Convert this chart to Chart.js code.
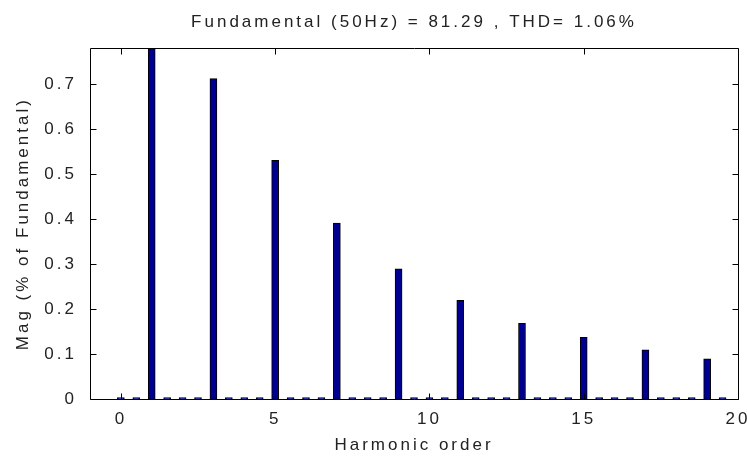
<!DOCTYPE html>
<html>
<head>
<meta charset="utf-8">
<title>FFT analysis</title>
<style>
  html, body { margin: 0; padding: 0; background: #ffffff; }
  #wrap { width: 747px; height: 456px; }
</style>
</head>
<body>
<div id="wrap"><canvas id="fft-chart"></canvas></div>
<script src="https://cdn.jsdelivr.net/npm/chart.js@4.4.1/dist/chart.umd.min.js"></script>
<script>
// harmonic order in steps of 0.5 (25 Hz resolution)
const harmonicOrder = [
  0, 0.5, 1, 1.5, 2, 2.5, 3, 3.5, 4, 4.5,
  5, 5.5, 6, 6.5, 7, 7.5, 8, 8.5, 9, 9.5,
  10, 10.5, 11, 11.5, 12, 12.5, 13, 13.5, 14, 14.5,
  15, 15.5, 16, 16.5, 17, 17.5, 18, 18.5, 19, 19.5,
];
// % of fundamental (fundamental itself = 100, clipped by the axis)
const magnitude = [
  0.004, 0.004, 100, 0.004, 0.004, 0.004, 0.713, 0.004, 0.004, 0.004,
  0.531, 0.004, 0.004, 0.004, 0.392, 0.004, 0.004, 0.004, 0.290, 0.004,
  0.004, 0.004, 0.220, 0.004, 0.004, 0.004, 0.169, 0.004, 0.004, 0.004,
  0.138, 0.004, 0.004, 0.004, 0.110, 0.004, 0.004, 0.004, 0.090, 0.004,
];
const xTicks = [0, 5, 10, 15, 20];
const yTicks = [0, 0.1, 0.2, 0.3, 0.4, 0.5, 0.6, 0.7];
const xRange = [-1, 20];
const yRange = [0, 0.781];

const textFont = { family: "'Liberation Sans', Arial, sans-serif", size: 17 };
const textColor = "#222222";
const tickLen = 6;

// MATLAB style axes box with ticks pointing inside
const matlabBox = {
  id: "matlabBox",
  beforeLayout(chart) {
    chart.ctx.letterSpacing = "3px";
  },
  beforeDraw(chart) {
    chart.ctx.letterSpacing = "3px";
  },
  afterDatasetsDraw(chart) {
    const { ctx, chartArea: a, scales } = chart;
    const left = Math.round(a.left) + 0.5;
    const right = Math.round(a.right) + 0.5;
    const top = Math.round(a.top) + 0.5;
    const bottom = Math.round(a.bottom) + 0.5;
    ctx.save();
    ctx.strokeStyle = "#000000";
    ctx.lineWidth = 1;
    ctx.beginPath();
    xTicks.forEach((v) => {
      const px = Math.round(scales.x.getPixelForValue(v)) + 0.5;
      ctx.moveTo(px, bottom);
      ctx.lineTo(px, bottom - tickLen);
      ctx.moveTo(px, top);
      ctx.lineTo(px, top + tickLen);
    });
    yTicks.forEach((v) => {
      const py = Math.round(scales.y.getPixelForValue(v)) + 0.5;
      ctx.moveTo(left, py);
      ctx.lineTo(left + tickLen, py);
      ctx.moveTo(right, py);
      ctx.lineTo(right - tickLen, py);
    });
    ctx.rect(left, top, right - left, bottom - top);
    ctx.stroke();
    ctx.restore();
  },
};

const canvas = document.querySelector("#fft-chart");

new Chart(canvas, {
  type: "bar",
  data: {
    datasets: [
      {
        label: "Mag",
        data: harmonicOrder.map((h, i) => ({ x: h, y: magnitude[i] })),
        backgroundColor: "#000090",
        borderColor: "#000000",
        borderWidth: 1,
        borderSkipped: false,
        barThickness: 7,
        clip: { left: 0, top: 0, right: 0, bottom: 1 },
      },
    ],
  },
  options: {
    responsive: true,
    maintainAspectRatio: false,
    animation: false,
    layout: { padding: { left: 0, right: 9, top: 0, bottom: 0 } },
    plugins: {
      legend: { display: false },
      tooltip: { enabled: false },
      title: {
        display: true,
        text: "Fundamental (50Hz) = 81.29 , THD= 1.06%",
        color: textColor,
        font: { ...textFont, weight: "normal" },
        fullSize: false,
        padding: { top: 12, bottom: 15.6 },
      },
    },
    scales: {
      x: {
        type: "linear",
        min: xRange[0],
        max: xRange[1],
        offset: false,
        grid: { display: false },
        border: { display: false },
        afterBuildTicks: (scale) => {
          scale.ticks = xTicks.map((v) => ({ value: v }));
        },
        afterFit: (scale) => {
          scale.height = 56.7;
          scale.paddingLeft = 0;
          scale.paddingRight = 0;
        },
        ticks: {
          padding: 2,
          color: textColor,
          font: textFont,
          maxRotation: 0,
          callback: (v) => String(v),
        },
        title: {
          display: true,
          text: "Harmonic order",
          color: textColor,
          font: textFont,
          padding: { top: 0, bottom: 0 },
        },
      },
      y: {
        min: yRange[0],
        max: yRange[1],
        grid: { display: false },
        border: { display: false },
        afterBuildTicks: (scale) => {
          scale.ticks = yTicks.map((v) => ({ value: v }));
        },
        afterFit: (scale) => {
          scale.width = 90;
          scale.paddingTop = 0;
          scale.paddingBottom = 0;
        },
        ticks: {
          padding: 5,
          color: textColor,
          font: textFont,
          callback: (v) => (v === 0 ? "0" : v.toFixed(1)),
        },
        title: {
          display: true,
          text: "Mag (% of Fundamental)",
          color: textColor,
          font: textFont,
          padding: { top: 13, bottom: 0 },
        },
      },
    },
  },
  plugins: [matlabBox],
});
</script>
</body>
</html>
